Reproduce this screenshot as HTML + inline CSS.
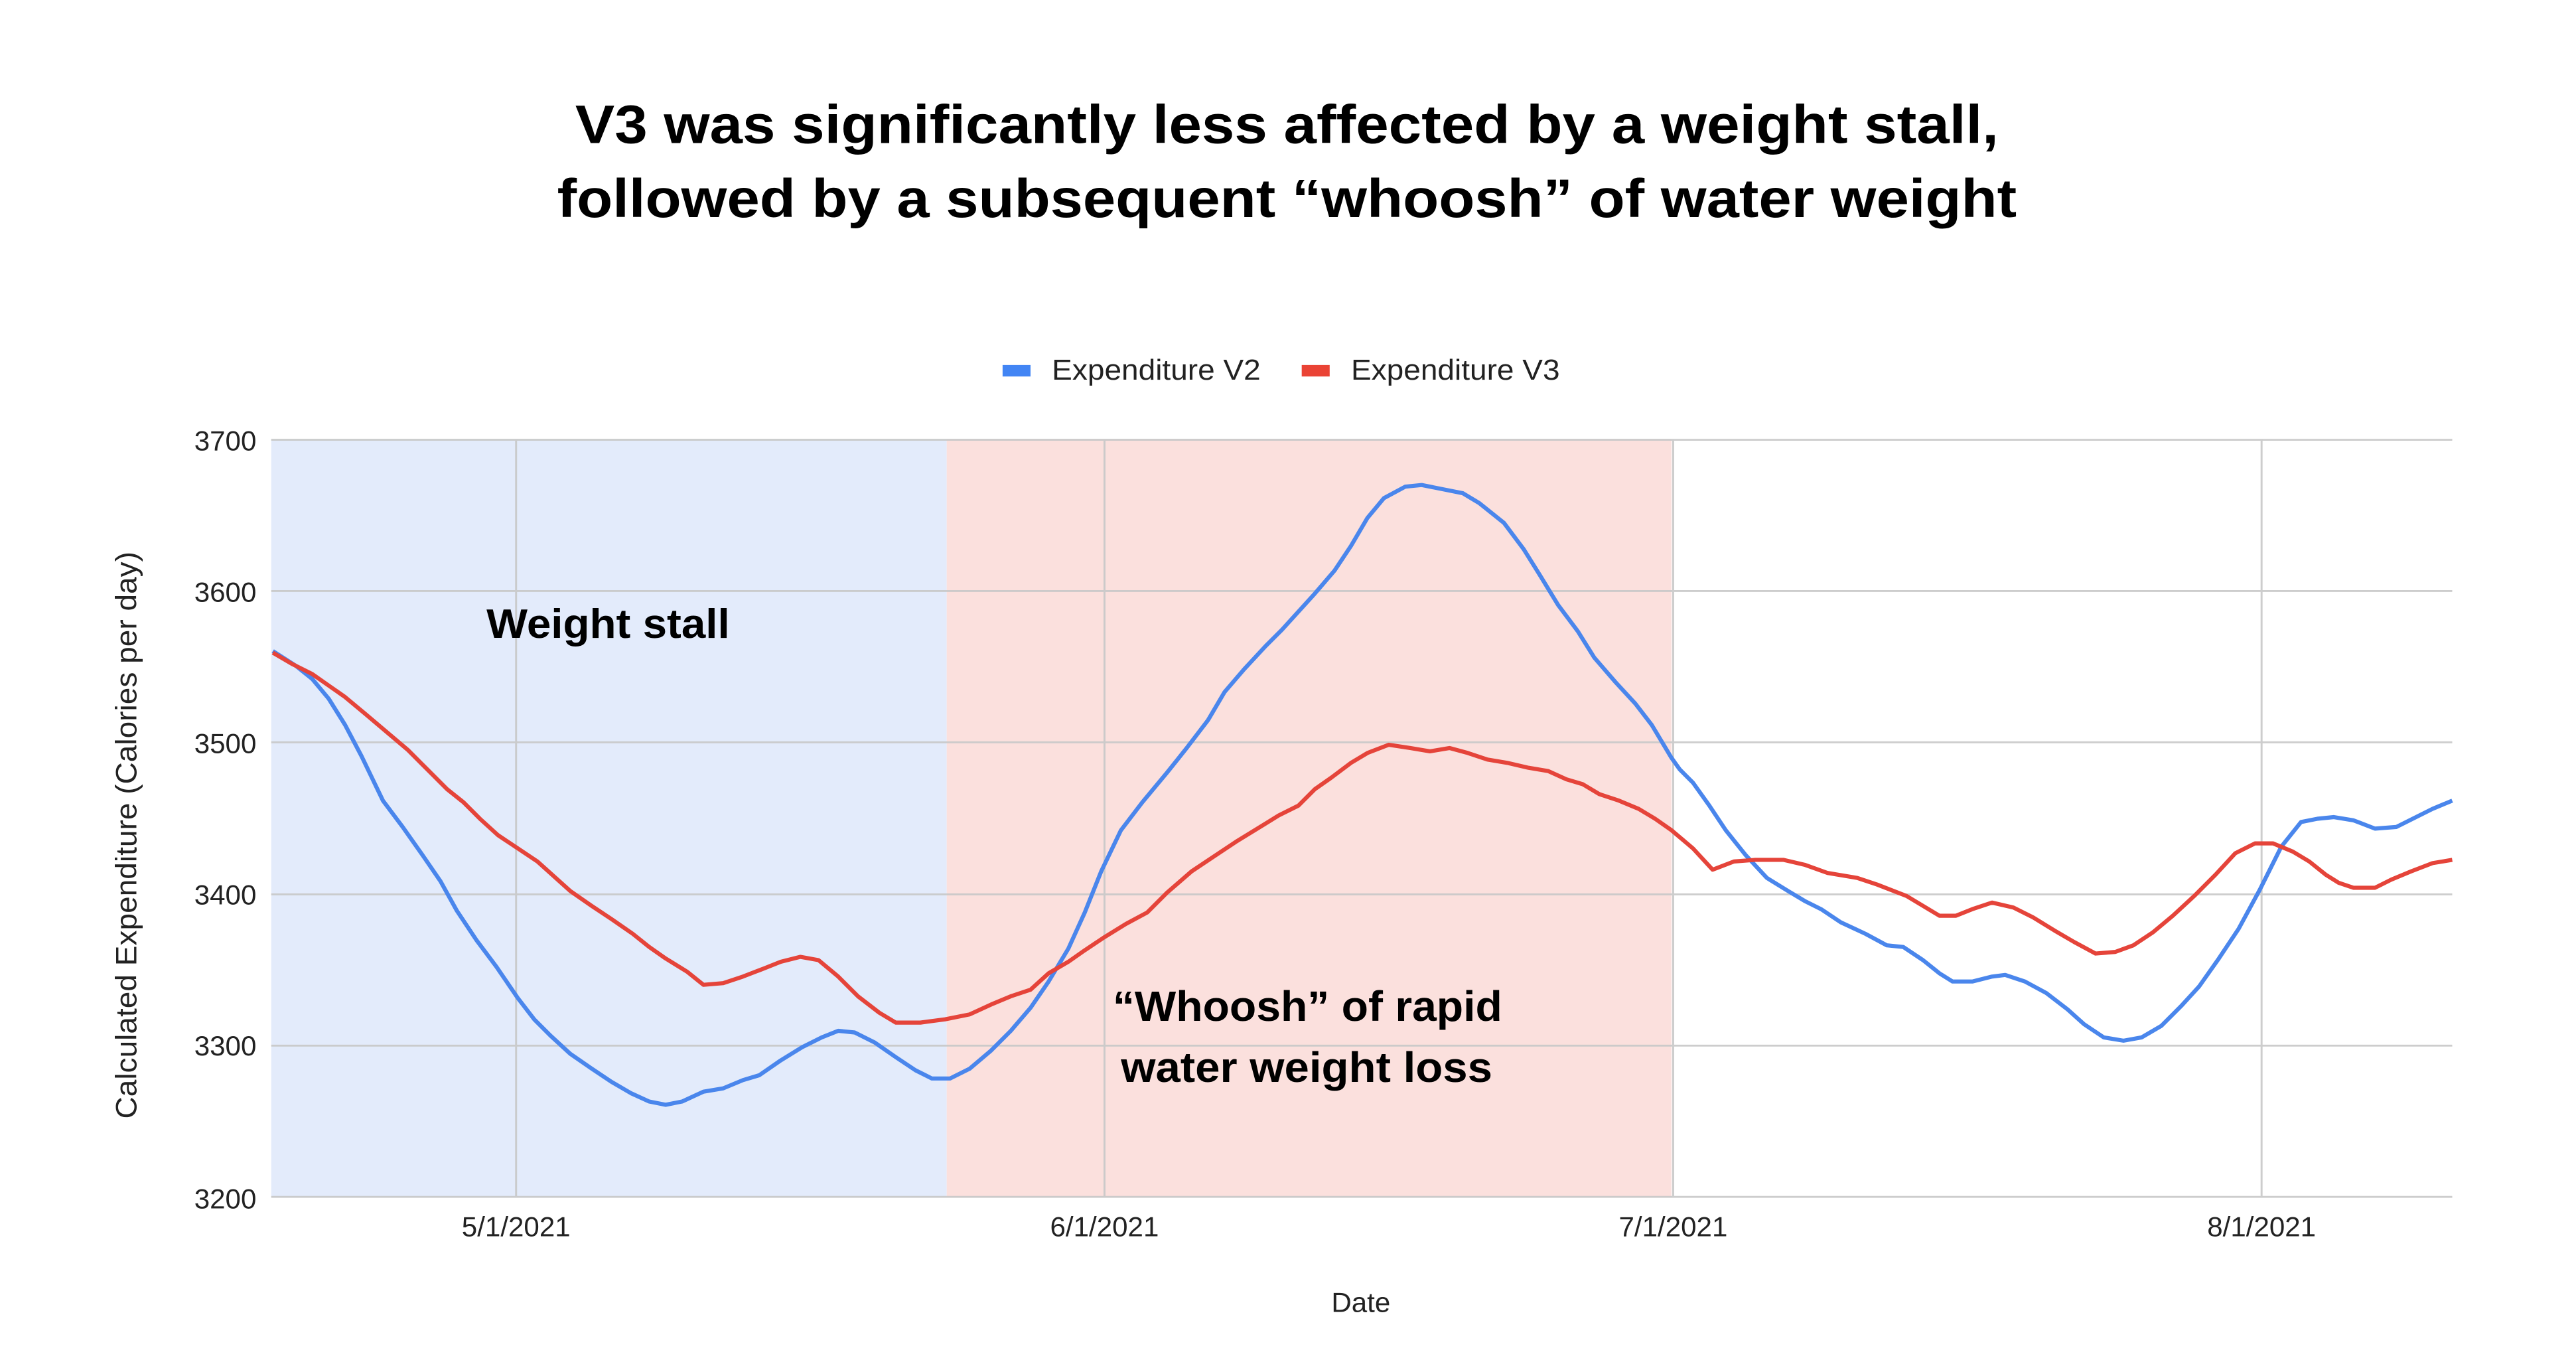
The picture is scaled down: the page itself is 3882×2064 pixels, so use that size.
<!DOCTYPE html>
<html><head><meta charset="utf-8"><style>html,body{margin:0;padding:0;background:#fff}svg{display:block}</style></head>
<body>
<svg width="3882" height="2064" viewBox="0 0 1567.3 833.3" xmlns="http://www.w3.org/2000/svg" font-family="Liberation Sans, Arial, sans-serif">
<rect width="1567.3" height="833.3" fill="#fff"/>
<text x="783" y="87" text-anchor="middle" font-size="33" font-weight="bold" textLength="866" lengthAdjust="spacingAndGlyphs">V3 was significantly less affected by a weight stall,</text>
<text x="783" y="132" text-anchor="middle" font-size="33" font-weight="bold" textLength="888" lengthAdjust="spacingAndGlyphs">followed by a subsequent “whoosh” of water weight</text>
<rect x="610" y="222" width="17" height="7" fill="#4285f4"/>
<text x="640" y="231" font-size="17.5" fill="#222" textLength="127" lengthAdjust="spacingAndGlyphs">Expenditure V2</text>
<rect x="792" y="222" width="17" height="7" fill="#ea4335"/>
<text x="822" y="231" font-size="17.5" fill="#222" textLength="127" lengthAdjust="spacingAndGlyphs">Expenditure V3</text>
<rect x="165" y="267" width="411" height="461" fill="#e3ebfb"/>
<rect x="576" y="267" width="441" height="461" fill="#fbe0dd"/>
<g stroke="#c8c8c8" stroke-width="1.2" opacity="0.9">
<line x1="165" y1="267.5" x2="1492" y2="267.5"/>
<line x1="165" y1="359.5" x2="1492" y2="359.5"/>
<line x1="165" y1="451.5" x2="1492" y2="451.5"/>
<line x1="165" y1="544" x2="1492" y2="544"/>
<line x1="165" y1="636" x2="1492" y2="636"/>
<line x1="165" y1="728" x2="1492" y2="728"/>
<line x1="314" y1="267" x2="314" y2="728"/>
<line x1="672" y1="267" x2="672" y2="728"/>
<line x1="1018" y1="267" x2="1018" y2="728"/>
<line x1="1376" y1="267" x2="1376" y2="728"/>
</g>
<g font-size="17" fill="#222" text-anchor="end">
<text x="156" y="274">3700</text><text x="156" y="366">3600</text><text x="156" y="458">3500</text>
<text x="156" y="550">3400</text><text x="156" y="642">3300</text><text x="156" y="735">3200</text>
</g>
<g font-size="17" fill="#222" text-anchor="middle">
<text x="314" y="752">5/1/2021</text><text x="672" y="752">6/1/2021</text>
<text x="1018" y="752">7/1/2021</text><text x="1376" y="752">8/1/2021</text>
<text x="828" y="798">Date</text>
</g>
<text transform="translate(83,508) rotate(-90)" text-anchor="middle" font-size="18" fill="#222" textLength="345" lengthAdjust="spacingAndGlyphs">Calculated Expenditure (Calories per day)</text>
<text x="296" y="388" font-size="25" font-weight="bold" textLength="148" lengthAdjust="spacingAndGlyphs">Weight stall</text>
<text x="677" y="621" font-size="26" font-weight="bold" textLength="237" lengthAdjust="spacingAndGlyphs">“Whoosh” of rapid</text>
<text x="682" y="658" font-size="26" font-weight="bold" textLength="226" lengthAdjust="spacingAndGlyphs">water weight loss</text>
<polyline fill="none" stroke="#4a86ec" stroke-width="2.5" stroke-linejoin="round" points="166,396 180,405 190,413 200,425 210,441 220,460 233,487 245,503 257,520 268,536 278,554 290,572 302,588 315,607 325,620 335,630 347,641 360,650 372,658 384,665 395,670 405,672 415,670 428,664 440,662 452,657 462,654 475,645 488,637 500,631 510,627 520,628 532,634 545,643 557,651 567,656 578,656 590,650 603,639 615,627 627,613 638,597 650,577 660,555 670,530 682,505 695,488 710,470 722,455 735,438 745,421 757,407 770,393 780,383 790,372 800,361 812,347 822,332 832,315 842,303 855,296 865,295 880,298 890,300 900,306 915,318 927,334 937,350 948,368 960,384 970,400 983,415 995,428 1005,441 1017,461 1022,468 1030,476 1040,490 1050,505 1062,520 1075,534 1088,542 1098,548 1108,553 1120,561 1135,568 1148,575 1158,576 1170,584 1180,592 1188,597 1200,597 1212,594 1220,593 1232,597 1245,604 1258,614 1268,623 1280,631 1292,633 1303,631 1315,624 1327,612 1338,600 1350,583 1362,565 1375,541 1388,515 1400,500 1410,498 1420,497 1432,499 1445,504 1458,503 1470,497 1480,492 1492,487"/>
<polyline fill="none" stroke="#e5443a" stroke-width="2.5" stroke-linejoin="round" points="166,397 178,404 190,410 200,417 210,424 222,434 235,445 248,456 260,468 272,480 282,488 292,498 303,508 315,516 327,524 337,533 347,542 360,551 372,559 385,568 395,576 405,583 418,591 428,599 440,598 452,594 465,589 475,585 487,582 498,584 510,594 522,606 535,616 545,622 560,622 575,620 590,617 603,611 615,606 627,602 638,592 650,585 660,578 672,570 685,562 698,555 710,543 725,530 740,520 752,512 765,504 778,496 790,490 800,480 810,473 822,464 832,458 845,453 858,455 870,457 882,455 893,458 905,462 917,464 930,467 942,469 953,474 963,477 973,483 985,487 997,492 1007,498 1017,505 1030,516 1042,529 1055,524 1068,523 1085,523 1098,526 1112,531 1130,534 1142,538 1160,545 1170,551 1180,557 1190,557 1200,553 1212,549 1225,552 1237,558 1250,566 1262,573 1275,580 1287,579 1298,575 1310,567 1322,557 1335,545 1348,532 1360,519 1372,513 1383,513 1395,518 1405,524 1415,532 1423,537 1432,540 1445,540 1455,535 1467,530 1480,525 1492,523"/>
</svg>
</body></html>
